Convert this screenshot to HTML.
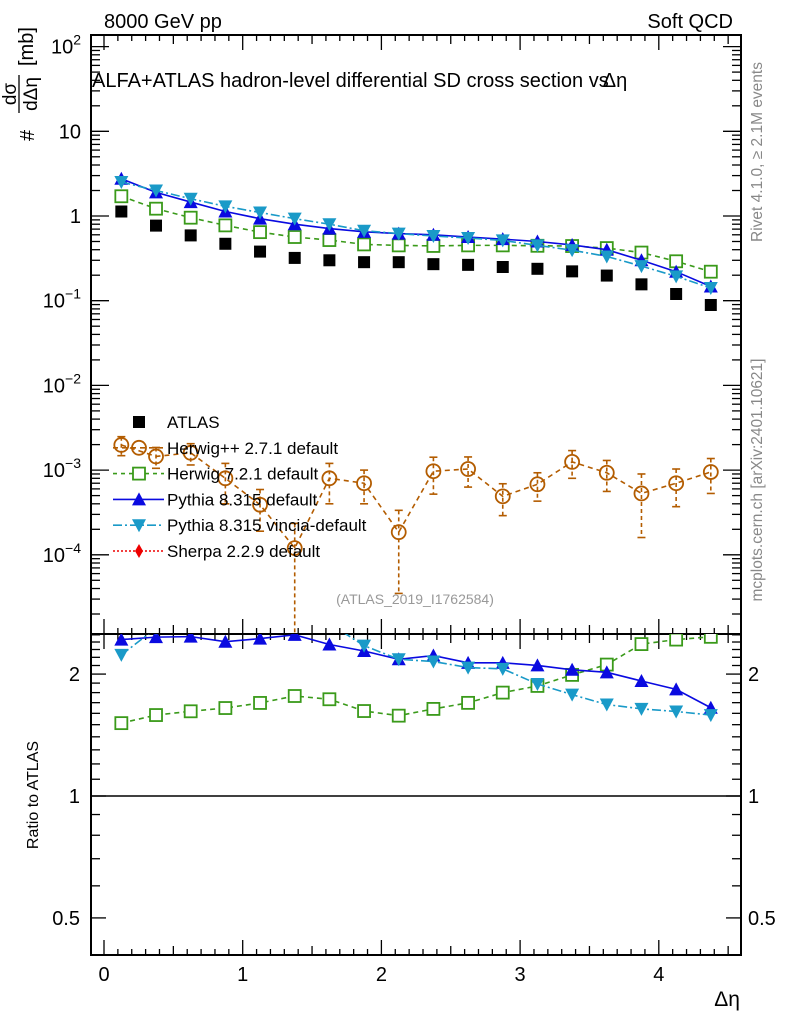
<!DOCTYPE html>
<html><head><meta charset="utf-8"><style>
html,body{margin:0;padding:0;background:#fff;}
svg{display:block;font-family:"Liberation Sans",Arial,sans-serif;}
</style></head><body>
<svg id="chart" width="786" height="1024" viewBox="0 0 786 1024" xmlns="http://www.w3.org/2000/svg">
<text x="104" y="28" font-size="20">8000 GeV pp</text>
<text x="733" y="28" font-size="20" text-anchor="end">Soft QCD</text>
<text x="92" y="87" font-size="20">ALFA+ATLAS hadron-level differential SD cross section vs<tspan dx="-6">Δη</tspan></text>
<text transform="translate(762,152) rotate(-90)" font-size="15.5" fill="#888" text-anchor="middle">Rivet 4.1.0, ≥ 2.1M events</text>
<text transform="translate(762,480) rotate(-90)" font-size="15.5" fill="#888" text-anchor="middle">mcplots.cern.ch [arXiv:2401.10621]</text>
<g>
<text transform="translate(34,141) rotate(-90)" font-size="20">#</text>
<text transform="translate(16,94) rotate(-90)" font-size="19" text-anchor="middle">dσ</text>
<line x1="19" y1="75" x2="19" y2="113" stroke="#000" stroke-width="1.3"/>
<text transform="translate(37,94) rotate(-90)" font-size="19" text-anchor="middle">dΔη</text>
<text transform="translate(33,66) rotate(-90)" font-size="20">[mb]</text>
</g>
<text transform="translate(38,795) rotate(-90)" font-size="16" text-anchor="middle">Ratio to ATLAS</text>
<text x="740" y="1006" font-size="21" text-anchor="end">Δη</text>
<text x="415" y="604" font-size="14" fill="#999" text-anchor="middle">(ATLAS_2019_I1762584)</text>
<g id="plot"></g>
</svg>
<script>
const xCenters=[0.125,0.375,0.625,0.875,1.125,1.375,1.625,1.875,2.125,2.375,2.625,2.875,3.125,3.375,3.625,3.875,4.125,4.375];
const atlas=[1.13,0.77,0.59,0.47,0.38,0.32,0.30,0.285,0.285,0.27,0.265,0.25,0.238,0.222,0.198,0.156,0.12,0.089];
const herwigpp=[1.98e-3,1.45e-3,1.6e-3,8.0e-4,3.9e-4,1.2e-4,8.0e-4,7.0e-4,1.85e-4,9.7e-4,1.03e-3,4.9e-4,6.8e-4,1.25e-3,9.3e-4,5.3e-4,7.0e-4,9.5e-4];
const herwigppErr=[5e-4,4e-4,4.5e-4,4e-4,2e-4,1.15e-4,4e-4,3e-4,1.5e-4,4.5e-4,4e-4,2e-4,2.5e-4,4.5e-4,3.7e-4,3.7e-4,3.3e-4,4.2e-4];
const herwig7=[1.71,1.22,0.955,0.775,0.645,0.565,0.52,0.462,0.45,0.443,0.45,0.45,0.445,0.442,0.418,0.37,0.292,0.22];
const pythia=[2.75,1.90,1.46,1.13,0.93,0.80,0.71,0.65,0.62,0.60,0.565,0.533,0.50,0.455,0.40,0.30,0.22,0.147];
const vincia=[2.52,2.0,1.6,1.3,1.1,0.93,0.80,0.67,0.62,0.58,0.55,0.515,0.45,0.395,0.333,0.256,0.194,0.141];
const mainTicks=[2,1,0,-1,-2,-3,-4];
const mainTickLabels=["10^2","10","1","10^-1","10^-2","10^-3","10^-4"];
const ratioTicks=[2,1,0.5];
const ratioTickLabels=["2","1","0.5"];
const xTicks=[0,1,2,3,4];

const NS="http://www.w3.org/2000/svg";
const g=document.getElementById('plot');
const L=91,R=741,T=35,M=634,B=955;
const X=v=>104+v*138.7;
const Y=v=>216-84.7*Math.log10(v);
const YR=v=>796-405*Math.log10(v);
function el(tag,attrs,parent){const e=document.createElementNS(NS,tag);for(const k in attrs)e.setAttribute(k,attrs[k]);(parent||g).appendChild(e);return e;}

let f1=el('rect',{x:L,y:T,width:R-L,height:M-T,fill:'none',stroke:'#000','stroke-width':2});


let f2=el('rect',{x:L,y:M,width:R-L,height:B-M,fill:'none',stroke:'#000','stroke-width':2});



const tk=el('g',{stroke:'#000','stroke-width':1.3});


for(let i=0;i<=46;i++){const v=i/10;const x=X(v);if(x>R)break;
 const len=(i%10==0)?15:(i%5==0?9:6);
 [[T,1],[M,-1],[M,1],[B,-1]].forEach(([y,d])=>el('line',{x1:x,x2:x,y1:y,y2:y+d*len},tk));}
xTicks.forEach(v=>{const t=el('text',{x:X(v),y:981,'font-size':20,'text-anchor':'middle'});t.textContent=v;

});

const yt=el('g',{stroke:'#000','stroke-width':1.3});


for(let d=-5;d<=2;d++){for(let m=1;m<10;m++){const v=m*Math.pow(10,d);const y=Y(v);if(y<T||y>M)continue;
 const len=m==1?18:9;el('line',{x1:L,x2:L+len,y1:y,y2:y},yt);el('line',{x1:R,x2:R-len,y1:y,y2:y},yt);}}
mainTicks.forEach((p,i)=>{const y=Y(Math.pow(10,p));const lab=mainTickLabels[i];
 const t=el('text',{x:81,y:y+7,'font-size':20,'text-anchor':'end'});
 
 
 if(lab.includes('^')){const [b,e]=lab.split('^');t.textContent=b;const s=el('tspan',{dy:-9,'font-size':14},t);s.textContent=e.replace('-','−');}
 else t.textContent=lab;});

const rt=el('g',{stroke:'#000','stroke-width':1.3});


[0.4,0.5,0.6,0.7,0.8,0.9,1,1.1,1.2,1.3,1.4,1.5,1.6,1.7,1.8,1.9,2,2.1,2.2,2.3,2.4,2.5].forEach(v=>{const y=YR(v);if(y<M||y>B)return;
 const major=ratioTicks.includes(v);const len=major?15:9;el('line',{x1:L,x2:L+len,y1:y,y2:y},rt);el('line',{x1:R,x2:R-len,y1:y,y2:y},rt);});
ratioTicks.forEach((v,i)=>{const y=YR(v);
 const a=el('text',{x:80,y:y+7,'font-size':20,'text-anchor':'end'});a.textContent=ratioTickLabels[i];
 
 
 const b=el('text',{x:748,y:y+7,'font-size':20});b.textContent=ratioTickLabels[i];
 
 });
let one=el('line',{x1:L,x2:R,y1:YR(1),y2:YR(1),stroke:'#000','stroke-width':1.5});



const defs=el('defs',{});
const c1=el('clipPath',{id:'cm'},defs);el('rect',{x:L,y:T,width:R-L,height:M-T},c1);
const c2=el('clipPath',{id:'cr'},defs);el('rect',{x:L,y:M,width:R-L,height:B-M},c2);

function marker(parent,type,x,y,color){
 if(type=='sq')return el('rect',{x:x-6,y:y-6,width:12,height:12,fill:color},parent);
 if(type=='osq')return el('rect',{x:x-6,y:y-6,width:12,height:12,fill:'#fff',stroke:color,'stroke-width':1.8},parent);
 if(type=='oc')return el('circle',{cx:x,cy:y,r:7,fill:'none',stroke:color,'stroke-width':1.8},parent);
 if(type=='tu')return el('polygon',{points:`${x},${y-7} ${x-7},${y+6} ${x+7},${y+6}`,fill:color},parent);
 if(type=='td')return el('polygon',{points:`${x},${y+7} ${x-7},${y-6} ${x+7},${y-6}`,fill:color},parent);
 if(type=='dia')return el('polygon',{points:`${x},${y-7} ${x-4},${y} ${x},${y+7} ${x+4},${y}`,fill:color},parent);
}
function series(name,vals,color,dash,mk,yf,clip,errs){
 const grp=el('g',{'clip-path':`url(#${clip})`});
 
 
 const pts=vals.map((v,i)=>[X(xCenters[i]),yf(v)]);
 if(dash!==null)el('polyline',{points:pts.map(p=>p.join(',')).join(' '),fill:'none',stroke:color,'stroke-width':1.6,'stroke-dasharray':dash},grp);
 if(errs)vals.forEach((v,i)=>{const x=X(xCenters[i]);const lo=v-errs[i]>0?yf(v-errs[i]):M+10;const hi=yf(v+errs[i]);
  el('line',{x1:x,x2:x,y1:hi,y2:lo,stroke:color,'stroke-width':1.6,'stroke-dasharray':'4,3'},grp);
  el('line',{x1:x-4,x2:x+4,y1:hi,y2:hi,stroke:color,'stroke-width':1.6},grp);
  el('line',{x1:x-4,x2:x+4,y1:lo,y2:lo,stroke:color,'stroke-width':1.6},grp);});
 pts.forEach(p=>{const m=marker(grp,mk,p[0],p[1],color);
  
  });
}
const BR='#b35c00',GR='#3a9a1a',BL='#0a0ae0',CY='#1a9ac8';
series('herwig7-series',herwig7,GR,'5,4','osq',Y,'cm');
series('pythia-series',pythia,BL,'none','tu',Y,'cm');
series('vincia-series',vincia,CY,'9,3,2,3','td',Y,'cm');
series('atlas-series',atlas,'#000',null,'sq',Y,'cm');
series('herwigpp-series',herwigpp,BR,'5,4','oc',Y,'cm',herwigppErr);
series('herwig7-ratio',herwig7.map((v,i)=>v/atlas[i]),GR,'5,4','osq',YR,'cr');
series('pythia-ratio',pythia.map((v,i)=>v/atlas[i]),BL,'none','tu',YR,'cr');
series('vincia-ratio',vincia.map((v,i)=>v/atlas[i]),CY,'9,3,2,3','td',YR,'cr');

const legNames=['ATLAS','Herwig++ 2.7.1 default','Herwig 7.2.1 default','Pythia 8.315 default','Pythia 8.315 vincia-default','Sherpa 2.2.9 default'];
const legStyle=[['#000',null,'sq'],[BR,'5,4','oc'],[GR,'4,4','osq'],[BL,'none','tu'],[CY,'9,3,2,3','td'],['#e00','2,2','dia']];
legNames.forEach((n,i)=>{const y=422+i*25.8;const lg=el('g',{});
 
 
 const [c,d,m]=legStyle[i];
 if(d!==null)el('line',{x1:113,x2:164,y1:y,y2:y,stroke:c,'stroke-width':1.6,'stroke-dasharray':d},lg);
 marker(lg,m,139,y,c);
 const t=el('text',{x:167,y:y+6,'font-size':17},lg);t.textContent=n;});
</script>
</body></html>
